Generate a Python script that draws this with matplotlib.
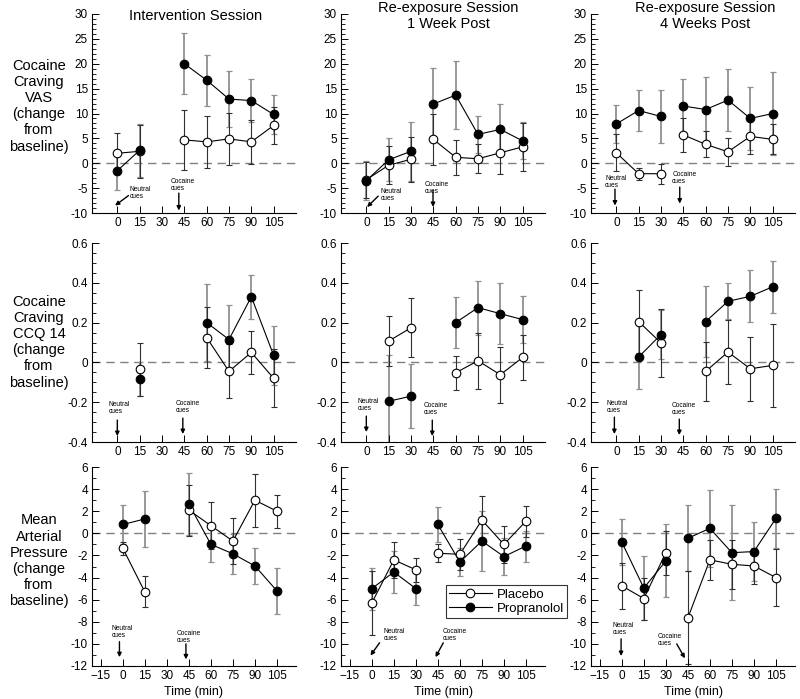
import numpy as np
import matplotlib
matplotlib.use('Agg')
import matplotlib.pyplot as plt
from matplotlib.lines import Line2D

plt.rcParams['font.family'] = ['Liberation Sans', 'DejaVu Sans']
nan = np.nan

# 时间点 (min)
times = np.array([0, 15, 30, 45, 60, 75, 90, 105])

# VAS
vas_int_pla = [2.0, 2.4, nan, 4.7, 4.3, 4.9, 4.3, 7.6]
vas_int_pla_err = [4.0, 5.3, nan, 6.0, 5.2, 5.3, 4.4, 3.8]
vas_int_pro = [-1.5, 2.6, nan, 20.0, 16.7, 12.9, 12.6, 9.8]
vas_int_pro_err = [3.9, 5.3, nan, 6.1, 5.1, 5.7, 4.4, 3.9]
vas_wk1_pla = [-3.3, -0.4, 0.8, 4.8, 1.2, 0.9, 2.1, 3.3]
vas_wk1_pla_err = [3.6, 3.8, 4.5, 5.1, 3.5, 2.9, 4.3, 4.8]
vas_wk1_pro = [-3.5, 0.7, 2.4, 11.9, 13.7, 5.8, 6.8, 4.5]
vas_wk1_pro_err = [3.9, 4.3, 5.9, 7.2, 6.8, 3.7, 5.1, 3.7]
vas_wk4_pla = [2.1, -2.1, -2.1, 5.7, 3.8, 2.3, 5.4, 4.8]
vas_wk4_pla_err = [3.7, 1.2, 2.0, 3.4, 2.6, 2.8, 3.5, 3.0]
vas_wk4_pro = [7.9, 10.6, 9.4, 11.5, 10.8, 12.7, 9.0, 10.0]
vas_wk4_pro_err = [3.8, 4.2, 5.3, 5.4, 6.5, 6.3, 6.4, 8.3]

# CCQ 14
ccq_int_pla = [nan, -0.035, nan, nan, 0.125, -0.045, 0.05, -0.08]
ccq_int_pla_err = [nan, 0.135, nan, nan, 0.155, 0.135, 0.11, 0.145]
ccq_int_pro = [nan, -0.085, nan, nan, 0.2, 0.115, 0.33, 0.035]
ccq_int_pro_err = [nan, 0.085, nan, nan, 0.195, 0.175, 0.11, 0.15]
ccq_wk1_pla = [nan, 0.107, 0.174, nan, -0.052, 0.008, -0.062, 0.025]
ccq_wk1_pla_err = [nan, 0.125, 0.148, nan, 0.085, 0.14, 0.14, 0.115]
ccq_wk1_pro = [nan, -0.195, -0.17, nan, 0.2, 0.275, 0.245, 0.215]
ccq_wk1_pro_err = [nan, 0.23, 0.16, nan, 0.13, 0.135, 0.155, 0.12]
ccq_wk4_pla = [nan, 0.205, 0.098, nan, -0.045, 0.052, -0.032, -0.015]
ccq_wk4_pla_err = [nan, 0.16, 0.17, nan, 0.15, 0.16, 0.16, 0.21]
ccq_wk4_pro = [nan, 0.027, 0.14, nan, 0.205, 0.307, 0.332, 0.38]
ccq_wk4_pro_err = [nan, 0.16, 0.125, nan, 0.18, 0.09, 0.13, 0.13]

# Mean arterial pressure
map_int_pla = [-1.35, -5.3, nan, 2.1, 0.7, -0.7, 3.0, 2.0]
map_int_pla_err = [0.6, 1.4, nan, 2.3, 2.1, 2.1, 2.4, 1.5]
map_int_pro = [0.8, 1.3, nan, 2.65, -1.0, -1.85, -2.95, -5.2]
map_int_pro_err = [1.8, 2.5, nan, 2.8, 1.55, 1.8, 1.6, 2.1]
map_wk1_pla = [-6.3, -2.4, -3.3, -1.8, -1.9, 1.2, -1.0, 1.1]
map_wk1_pla_err = [2.9, 1.6, 1.1, 0.8, 1.4, 2.2, 1.7, 1.4]
map_wk1_pro = [-5.0, -3.5, -5.0, 0.8, -2.6, -0.7, -2.1, -1.15]
map_wk1_pro_err = [1.9, 1.9, 1.5, 1.6, 1.3, 2.7, 1.7, 1.4]
map_wk4_pla = [-4.75, -5.9, -1.75, -7.65, -2.4, -2.8, -2.95, -4.0]
map_wk4_pla_err = [2.1, 1.9, 2.0, 4.2, 1.8, 2.2, 1.6, 2.6]
map_wk4_pro = [-0.8, -4.95, -2.5, -0.45, 0.45, -1.75, -1.65, 1.35]
map_wk4_pro_err = [2.1, 2.9, 3.3, 3.0, 3.5, 4.3, 2.7, 2.7]

col_titles = ['Intervention Session', 'Re-exposure Session\n1 Week Post',
              'Re-exposure Session\n4 Weeks Post']
row_labels = ['Cocaine\nCraving\nVAS\n(change\nfrom\nbaseline)',
              'Cocaine\nCraving\nCCQ 14\n(change\nfrom\nbaseline)',
              'Mean\nArterial\nPressure\n(change\nfrom\nbaseline)']

panels = [
    [(vas_int_pla, vas_int_pla_err, vas_int_pro, vas_int_pro_err),
     (vas_wk1_pla, vas_wk1_pla_err, vas_wk1_pro, vas_wk1_pro_err),
     (vas_wk4_pla, vas_wk4_pla_err, vas_wk4_pro, vas_wk4_pro_err)],
    [(ccq_int_pla, ccq_int_pla_err, ccq_int_pro, ccq_int_pro_err),
     (ccq_wk1_pla, ccq_wk1_pla_err, ccq_wk1_pro, ccq_wk1_pro_err),
     (ccq_wk4_pla, ccq_wk4_pla_err, ccq_wk4_pro, ccq_wk4_pro_err)],
    [(map_int_pla, map_int_pla_err, map_int_pro, map_int_pro_err),
     (map_wk1_pla, map_wk1_pla_err, map_wk1_pro, map_wk1_pro_err),
     (map_wk4_pla, map_wk4_pla_err, map_wk4_pro, map_wk4_pro_err)],
]

# 坐标轴设置
ylims = [(-10, 30), (-0.4, 0.6), (-12, 6)]
ymajor = [5, 0.2, 2]
yminor = [1, 0.05, 1]
yfmt = [lambda v: '%d' % v, lambda v: '0' if abs(v) < 1e-9 else '%.1f' % v, lambda v: '%d' % v]

# cue annotations: (neutral text xy, arrow tail, arrow head, cocaine text xy, arrow tail, arrow head)
cues = [
    [((8.5, -4.6), (7.5, -6.5), (-1.5, -8.5), (36, -2.9), (41.3, -6.0), (41.3, -9.5)),
     ((9.5, -4.9), (8, -6.6), (0.5, -8.8), (39, -3.6), (44.8, -5.5), (44.8, -8.8)),
     ((-7.5, -2.3), (-0.9, -5.2), (-0.9, -8.5), (37.5, -1.5), (42.6, -4.8), (42.6, -8.1))],
    [((-6, -0.195), (0, -0.29), (0, -0.37), (39, -0.19), (44, -0.28), (44, -0.36)),
     ((-5.8, -0.18), (0, -0.27), (0, -0.35), (38.8, -0.2), (44.3, -0.29), (44.3, -0.37)),
     ((-6.7, -0.19), (-1.3, -0.275), (-1.3, -0.36), (37, -0.2), (42.3, -0.285), (42.3, -0.365))],
    [((-7.6, -8.3), (-2.3, -9.8), (-2.3, -11.2), (37, -8.7), (43, -10), (43, -11.4)),
     ((8, -8.6), (5.3, -9.9), (-0.9, -11.05), (48, -8.6), (48.7, -9.9), (43.4, -11.2)),
     ((-6.3, -8), (-0.5, -9.55), (-0.5, -11.1), (24.6, -9), (37.4, -10), (43, -11.3))],
]

fig = plt.figure(figsize=(8, 6.99), dpi=100)
W, H = 800, 699
lefts = [92, 341, 591]
tops = [14, 243, 467]
aw, ah = 204, 199

for r in range(3):
    for c in range(3):
        ax = fig.add_axes([lefts[c] / W, 1 - (tops[r] + ah) / H, aw / W, ah / H])
        pla, pla_e, pro, pro_e = [np.array(a, dtype=float) for a in panels[r][c]]

        ax.axhline(0, color='#808080', lw=1.0, ls=(0, (6, 4)), zorder=0)
        ax.errorbar(times, pro, yerr=pro_e, fmt='none', ecolor='#909090',
                    elinewidth=1.3, capsize=2.5, capthick=0.9, zorder=1)
        ax.errorbar(times, pla, yerr=pla_e, fmt='none', ecolor='#303030',
                    elinewidth=0.8, capsize=2.5, capthick=0.8, zorder=1)
        for m in [times <= 30, times >= 45]:
            ax.plot(times[m], pla[m], '-', color='k', lw=0.8, zorder=2)
            ax.plot(times[m], pro[m], '-', color='k', lw=0.8, zorder=2)
        ax.plot(times, pla, 'o', ls='none', mfc='white', mec='k', ms=6.2, mew=0.8, zorder=3)
        ax.plot(times, pro, 'o', ls='none', mfc='k', mec='k', ms=6.2, mew=0.8, zorder=4)

        ax.set_ylim(*ylims[r])
        if r < 2:
            ax.set_xlim(-17, 120)
            ax.set_xticks(times)
        else:
            ax.set_xlim(-21, 118)
            ax.set_xticks(np.concatenate([[-15], times]))
            ax.set_xlabel('Time (min)', fontsize=9, labelpad=3)
        yt = np.arange(ylims[r][0], ylims[r][1] + ymajor[r] / 2, ymajor[r])
        ax.set_yticks(yt)
        ax.set_yticklabels([yfmt[r](v) for v in yt])
        ax.set_yticks(np.arange(ylims[r][0], ylims[r][1] + yminor[r] / 2, yminor[r]), minor=True)
        for s in ['top', 'right']:
            ax.spines[s].set_visible(False)
        for s in ['left', 'bottom']:
            ax.spines[s].set_linewidth(0.8)
        ax.tick_params(which='major', direction='in', length=5, width=0.7, labelsize=8.5, pad=3)
        ax.tick_params(which='minor', direction='in', length=3, width=0.6)
        ax.tick_params(axis='x', which='minor', bottom=False)

        nt, na0, na1, ct, ca0, ca1 = cues[r][c]
        ax.text(nt[0], nt[1], 'Neutral\ncues', fontsize=4.8, va='top', ha='left', linespacing=1.0)
        ax.text(ct[0], ct[1], 'Cocaine\ncues', fontsize=4.8, va='top', ha='left', linespacing=1.0)
        for a0, a1 in [(na0, na1), (ca0, ca1)]:
            ax.annotate('', xy=a1, xytext=a0,
                        arrowprops=dict(arrowstyle='-|>', color='k', lw=1.0,
                                        mutation_scale=6, shrinkA=0, shrinkB=0))

        if r == 2 and c == 1:
            handles = [Line2D([], [], color='k', lw=0.8, marker='o', mfc='white', mec='k', ms=6.2, mew=0.8),
                       Line2D([], [], color='k', lw=0.8, marker='o', mfc='k', mec='k', ms=6.2, mew=0.8)]
            leg = ax.legend(handles, ['Placebo', 'Propranolol'], loc='lower left',
                            bbox_to_anchor=(0.515, 0.24), fontsize=9.5, frameon=True,
                            fancybox=False, handlelength=3.2, borderpad=0.25,
                            labelspacing=0.15, handletextpad=0.4, borderaxespad=0)
            leg.get_frame().set_edgecolor('k')
            leg.get_frame().set_linewidth(0.8)

# 列标题与行标签
title_x = [196, 448, 705]
for c in range(3):
    fig.text(title_x[c] / W, 1 - 16 / H, col_titles[c], ha='center', va='center',
             fontsize=10.5, linespacing=1.15)
row_y = [106, 342, 561]
for r in range(3):
    fig.text(39 / W, 1 - row_y[r] / H, row_labels[r], ha='center', va='center',
             fontsize=10.5, linespacing=1.2)

fig.savefig('out.png', dpi=100)
